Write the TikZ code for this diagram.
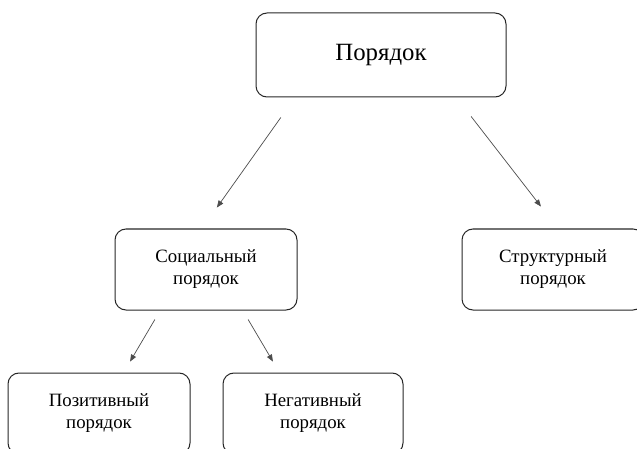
\documentclass[tikz,border=0pt]{standalone}
\usepackage{fontspec}
\setmainfont{Liberation Serif}
\usetikzlibrary{arrows.meta,calc}
\tikzset{
  box/.style={draw=black!85, line width=1pt, rounded corners=11pt, align=center,
    font=\fontsize{18.8}{22}\selectfont, inner sep=0pt},
  arr/.style={draw=black!70, line width=0.7pt, -{Triangle[length=7pt,width=5.5pt]}}
}
\begin{document}
\begin{tikzpicture}[x=1pt,y=-1pt]
\useasboundingbox (0,0) rectangle (637,449);
\node[box, minimum width=250pt, minimum height=84pt, font=\fontsize{24.8}{28}\selectfont] (top) at (381,55) {Порядок};
\node[box, minimum width=182pt, minimum height=81pt] (soc) at (206,269.5) {Социальный\\порядок};
\node[box, minimum width=182pt, minimum height=81pt] (str) at (553,269.5) {Структурный\\порядок};
\node[box, minimum width=182pt, minimum height=81pt] (pos) at (99,413.5) {Позитивный\\порядок};
\node[box, minimum width=180pt, minimum height=81pt] (neg) at (313,413.5) {Негативный\\порядок};
\draw[arr, shorten <=24.5pt, shorten >=25.7pt] ([xshift=-86pt]top.south) -- ([xshift=-4pt]soc.north);
\draw[arr, shorten <=24pt, shorten >=27.8pt] ([xshift=75.4pt]top.south) -- ([xshift=5pt]str.north);
\draw[arr, shorten <=10.4pt, shorten >=12.7pt] ([xshift=-45.8pt]soc.south) -- ([xshift=24.6pt]pos.north);
\draw[arr, shorten <=10.4pt, shorten >=12.7pt] ([xshift=36.8pt]soc.south) -- ([xshift=-33.6pt]neg.north);
\end{tikzpicture}
\end{document}
